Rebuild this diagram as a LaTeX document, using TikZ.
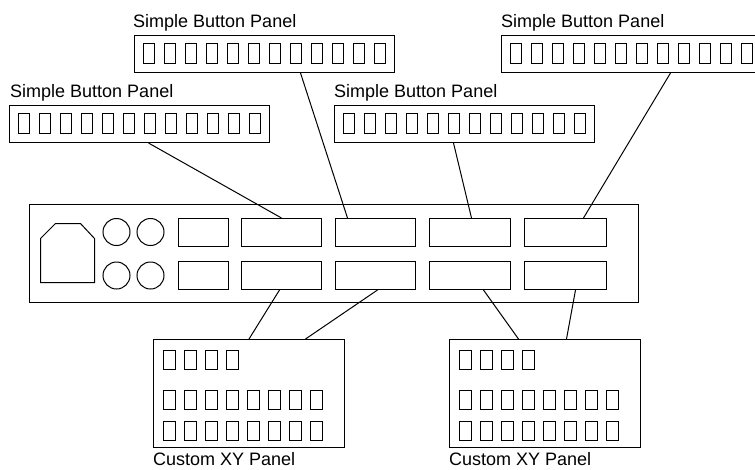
\documentclass[tikz,border=0pt]{standalone}
\usepackage{fontspec}
\setmainfont{Liberation Sans}
\begin{document}
\begin{tikzpicture}[x=1pt,y=-1pt,
  panel/.style={draw, line width=1pt, inner sep=0pt, minimum width=260pt, minimum height=37pt},
  slot/.style={draw, line width=1pt, inner sep=0pt, minimum height=28pt},
  xypanel/.style={draw, line width=1pt, inner sep=0pt, minimum width=191pt, minimum height=108pt},
  chassis/.style={draw, line width=1pt, inner sep=0pt, minimum width=609pt, minimum height=98pt},
  btn/.style={line width=1pt},
  wire/.style={line width=1pt},
  lbl/.style={inner sep=0pt, anchor=base west, font=\fontsize{18}{20}\selectfont}]
\path[use as bounding box, clip] (0,0) rectangle (755,469);

% simple button panels
\node[panel] (pA) at (264.5,54) {};
\node[panel] (pB) at (139.5,124) {};
\node[panel] (pC) at (464.5,124) {};
\node[panel] (pD) at (631.5,54) {};
\node[lbl] (lA) at (133,27) {Simple Button Panel};
\node[lbl] (lB) at (10,97) {Simple Button Panel};
\node[lbl] (lC) at (334,97) {Simple Button Panel};
\node[lbl] (lD) at (501,27) {Simple Button Panel};
\foreach \L/\T in {134.5/35.5, 9.5/105.5, 334.5/105.5, 501.5/35.5}
  \foreach \i in {0,...,11}
    \draw[btn] ({\L+9+\i*21},{\T+8}) rectangle ++(11,20);

% chassis
\node[chassis] (ch) at (334,253.5) {};
\draw[line width=1pt] (40.5,282.5) -- (40.5,238.5) -- (55.5,223.5) -- (80.5,223.5) -- (94.5,238.5) -- (94.5,282.5) -- cycle;
\foreach \cx in {116.5,150.5}
  \foreach \cy in {232,275.5}
    \draw[line width=1pt] (\cx,\cy) circle (13.5);
\node[slot, minimum width=50pt] (t1) at (203.5,232.5) {};
\node[slot, minimum width=80pt] (t2) at (281.5,232.5) {};
\node[slot, minimum width=80pt] (t3) at (375.5,232.5) {};
\node[slot, minimum width=81pt] (t4) at (470,232.5) {};
\node[slot, minimum width=82pt] (t5) at (565.5,232.5) {};
\node[slot, minimum width=50pt] (b1) at (203.5,275.5) {};
\node[slot, minimum width=80pt] (b2) at (281.5,275.5) {};
\node[slot, minimum width=80pt] (b3) at (375.5,275.5) {};
\node[slot, minimum width=81pt] (b4) at (470,275.5) {};
\node[slot, minimum width=82pt] (b5) at (565.5,275.5) {};

% custom XY panels
\node[xypanel] (xy1) at (249,393.5) {};
\node[xypanel] (xy2) at (545,393.5) {};
\node[lbl] (lx1) at (153,465) {Custom XY Panel};
\node[lbl] (lx2) at (449,465) {Custom XY Panel};
\foreach \L in {153.5,449.5} {
  \foreach \i in {0,...,3}
    \draw[btn] ({\L+10+\i*21},350.5) rectangle ++(12,19);
  \foreach \r in {390.5,421.5}
    \foreach \i in {0,...,7}
      \draw[btn] ({\L+10+\i*21},\r) rectangle ++(12,19);
}

% connectors
\draw[wire] ([xshift=9pt]pB.south) -- (t2.north);
\draw[wire] ([xshift=36pt]pA.south) -- ([xshift=-28pt]t3.north);
\draw[wire] ([xshift=-11pt]pC.south) -- ([xshift=1.5pt]t4.north);
\draw[wire] ([xshift=39pt]pD.south) -- ([xshift=18pt]t5.north);
\draw[wire] ([xshift=-2pt]b2.south) -- (xy1.north);
\draw[wire] ([xshift=2pt]b3.south) -- ([xshift=56.5pt]xy1.north);
\draw[wire] ([xshift=13.5pt]b4.south) -- ([xshift=-26.5pt]xy2.north);
\draw[wire] ([xshift=10pt]b5.south) -- ([xshift=21.5pt]xy2.north);
\end{tikzpicture}
\end{document}
